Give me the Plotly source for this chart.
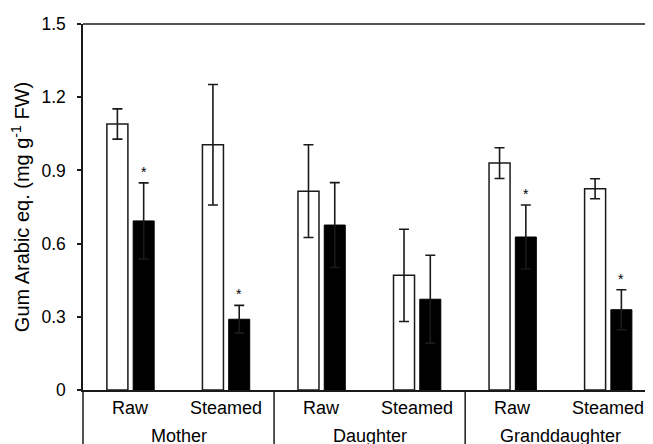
import plotly.graph_objects as go

treatments = ["Raw", "Steamed", "Raw", "Steamed", "Raw", "Steamed"]
generations = ["Mother", "Daughter", "Granddaughter"]
white_mean = [1.09, 1.005, 0.815, 0.47, 0.93, 0.825]
white_err = [0.062, 0.247, 0.19, 0.189, 0.063, 0.041]
black_mean = [0.693, 0.29, 0.676, 0.372, 0.627, 0.329]
black_err = [0.156, 0.057, 0.174, 0.18, 0.131, 0.082]
significant = [True, True, False, False, True, True]
yticks = [0, 0.3, 0.6, 0.9, 1.2, 1.5]
ytick_text = ["0", "0.3", "0.6", "0.9", "1.2", "1.5"]

FONT = "Liberation Sans, Arial, Helvetica, sans-serif"
LINE = "#1a1a1a"
xpos = list(range(len(treatments)))
BW = 0.22

fig = go.Figure()
fig.add_trace(go.Bar(
    x=xpos, y=white_mean, width=BW, offset=-0.25,
    marker=dict(color="white", line=dict(color=LINE, width=1.5)),
    error_y=dict(type="data", array=white_err, visible=True, color=LINE, thickness=1.6, width=5),
    showlegend=False,
))
fig.add_trace(go.Bar(
    x=xpos, y=black_mean, width=BW, offset=0.025,
    marker=dict(color="black", line=dict(color="black", width=1)),
    error_y=dict(type="data", array=black_err, visible=True, color=LINE, thickness=1.6, width=5),
    showlegend=False,
))

annotations = []
for i, (m, e, s) in enumerate(zip(black_mean, black_err, significant)):
    if s:
        annotations.append(dict(x=i + 0.025 + BW / 2, y=m + e, xref="x", yref="y",
                                text="*", showarrow=False, yanchor="bottom", yshift=1,
                                font=dict(family=FONT, size=14, color="black")))
for i, t in enumerate(treatments):
    annotations.append(dict(x=i, y=0, xref="x", yref="paper", text=t, showarrow=False,
                            yanchor="middle", yshift=-18,
                            font=dict(family=FONT, size=18, color="black")))
for g, name in enumerate(generations):
    annotations.append(dict(x=2 * g + 0.5, y=0, xref="x", yref="paper", text=name, showarrow=False,
                            yanchor="middle", yshift=-46,
                            font=dict(family=FONT, size=18, color="black")))

shapes = [
    dict(type="line", xref="paper", yref="paper", x0=0, x1=1, y0=1, y1=1,
         line=dict(color=LINE, width=1.5)),
    dict(type="line", xref="paper", yref="paper", x0=0, x1=0, y0=0, y1=-0.2,
         line=dict(color=LINE, width=1.5)),
]
for b in [1.5, 3.5]:
    shapes.append(dict(type="line", xref="x", yref="paper", x0=b, x1=b, y0=0, y1=-0.2,
                       line=dict(color=LINE, width=1.5)))

# page body has an 8px margin, so the figure is shifted by 8px in x and y
fig.update_layout(
    width=645, height=436,
    margin=dict(l=75, r=0, t=16, b=54),
    paper_bgcolor="white", plot_bgcolor="white",
    font=dict(family=FONT, size=17, color="black"),
    annotations=annotations, shapes=shapes,
    xaxis=dict(range=[-0.5, 5.466], showticklabels=False, ticks="", showgrid=False,
               zeroline=False, showline=True, linecolor=LINE, linewidth=1.5),
    yaxis=dict(range=[0, 1.5], tickvals=yticks, ticktext=ytick_text, ticks="outside",
               ticklen=4, tickwidth=1.5, tickcolor=LINE, showgrid=False, zeroline=False,
               showline=True, linecolor=LINE, linewidth=1.5, ticklabelstandoff=8,
               tickfont=dict(family=FONT, size=17.5, color="black"),
               title=dict(text="Gum Arabic eq. (mg g<sup>-1</sup> FW)", standoff=8,
                          font=dict(family=FONT, size=20, color="black"))),
)

fig.write_html("out.html")
